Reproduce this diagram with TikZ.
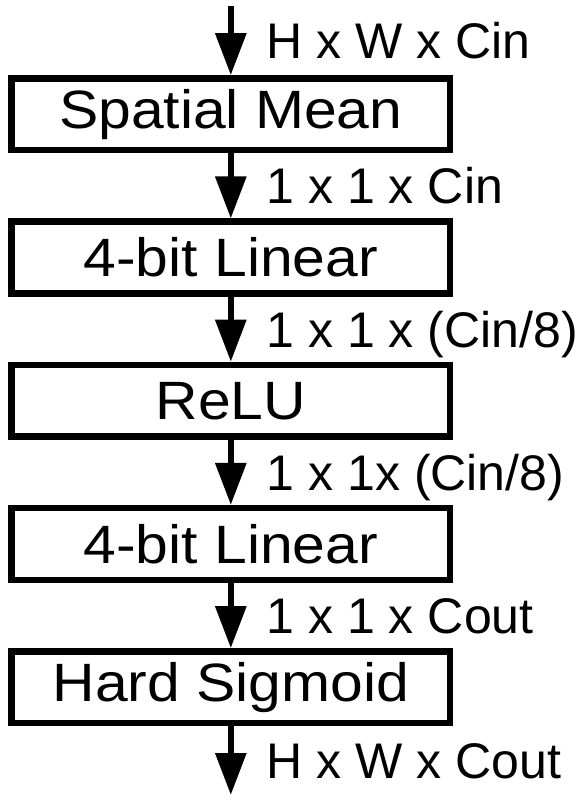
\documentclass[tikz,border=0pt]{standalone}
\usepackage{fontspec}
\setmainfont{Liberation Sans}
\newfontfamily\widefont[FakeStretch=1.09]{Liberation Sans}
\usetikzlibrary{arrows.meta}

\begin{document}
\begin{tikzpicture}[
  box/.style={draw, line width=4.6pt, rectangle, inner sep=0pt,
              minimum width=10.96cm, minimum height=1.79cm,
              font=\widefont\fontsize{38.4}{42}\selectfont},
  ar/.style={-{Triangle[length=1.05cm, width=0.75cm]}, line width=4.3pt},
  lab/.style={font=\fontsize{35.6}{40}\selectfont, inner sep=0pt,
              anchor=west, xshift=0.82cm, text height=25.5pt, text depth=0pt},
]
\useasboundingbox (0,0) rectangle (14.525,-20);

\coordinate (in)  at (5.77,-0.15);
\node[box] (sm)   at (5.77,-2.856) {Spatial Mean};
\node[box] (lin1) at (5.77,-6.4375) {4-bit Linear};
\node[box] (relu) at (5.77,-10.019) {ReLU};
\node[box] (lin2) at (5.77,-13.6) {4-bit Linear};
\node[box] (hsig) at (5.77,-17.181) {Hard Sigmoid};
\coordinate (out) at (5.77,-19.875);

\draw[ar] (in) -- node[lab] {H x W x Cin} (sm);
\draw[ar] (sm) -- node[lab] {1 x 1 x Cin} (lin1);
\draw[ar] (lin1) -- node[lab] {1 x 1 x (Cin/8)} (relu);
\draw[ar] (relu) -- node[lab] {1 x 1x (Cin/8)} (lin2);
\draw[ar] (lin2) -- node[lab] {1 x 1 x Cout} (hsig);
\draw[ar] (hsig) -- node[lab] {H x W x Cout} (out);
\end{tikzpicture}
\end{document}
